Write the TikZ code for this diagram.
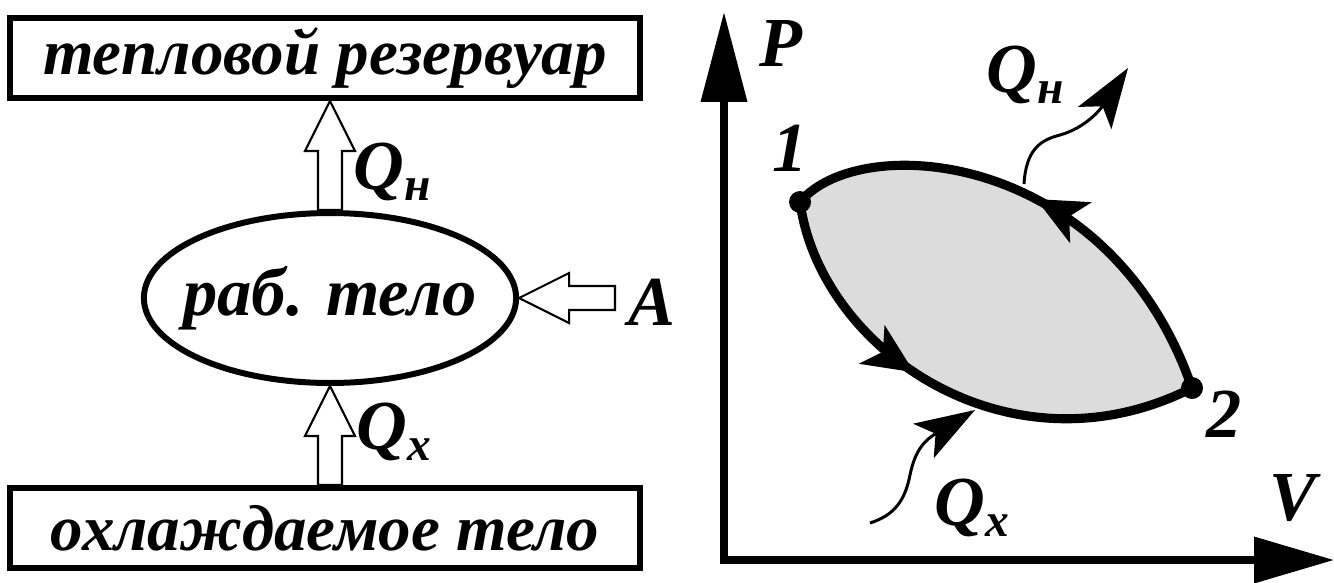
\documentclass[tikz,border=0pt]{standalone}
\usepackage{fontspec}
\setmainfont{Liberation Serif}
\usetikzlibrary{
  arrows.meta,
  shapes.geometric,
  calc,
  decorations.markings
}
\definecolor{lensgray}{HTML}{DCDCDC}

% hollow block arrow from #1 to #2
\newcommand{\hollowarrow}[2]{%
  \coordinate (ha-base) at ($(#2)!1cm!(#1)$);
  \draw[hollow] ($(#1)!0.24cm!90:(#2)$) -- ($(ha-base)!0.24cm!90:(#2)$)
    -- ($(ha-base)!0.5cm!90:(#2)$) -- (#2) -- ($(ha-base)!0.5cm!-90:(#2)$)
    -- ($(ha-base)!0.24cm!-90:(#2)$) -- ($(#1)!0.24cm!-90:(#2)$) -- cycle;
}
\newcommand{\lowsub}[1]{\raisebox{-0.35ex}{\fontsize{27}{27}\selectfont #1}}

\begin{document}
\begin{tikzpicture}[x=0.02cm, y=-0.02cm,
  every node/.style={font=\fontsize{37}{42}\selectfont\bfseries\itshape, inner sep=0pt},
  biglabel/.style={font=\fontsize{40}{44}\selectfont\bfseries\itshape},
  boxnode/.style={draw, line width=3.4pt, minimum width=12.6cm, minimum height=1.6cm},
  bodynode/.style={draw, ellipse, line width=3.4pt, inner xsep=-0.3cm,
    minimum width=7.4cm, minimum height=3.4cm,
    font=\fontsize{39}{44}\selectfont\bfseries\itshape},
  hollow/.style={draw, fill=white, line width=1.2pt, line join=miter},
  axis/.style={line width=4pt, line join=miter, {Triangle[length=1.8cm, width=0.9cm]}-{Triangle[length=1.6cm, width=0.9cm]}},
  cycleline/.style={line width=5.2pt},
  midarrow/.style={postaction={decorate}, decoration={markings,
    mark=at position #1 with {\arrow{Stealth[length=1cm, width=0.9cm, inset=0.25cm]}}}},
  heatflow/.style={line width=1.7pt, -{Stealth[length=1.2cm, width=0.8cm, inset=0.28cm]}}
]
\useasboundingbox (0,0) rectangle (1334,582);

% scheme of the refrigerator
\node[boxnode] (res) at (325,58) {тепловой резервуар};
\node[bodynode] (body) at (330,298) {раб. тело};
\node[boxnode] (cold) at (325,528) {охлаждаемое тело};

\coordinate (qh-tip) at (body.north |- res.south);
\coordinate (qx-tail) at (body.south |- cold.north);
\coordinate (work-tail) at (615,298);
\hollowarrow{body.north}{qh-tip}
\hollowarrow{qx-tail}{body.south}
\hollowarrow{work-tail}{body.east}

\node[biglabel] (qh) at (392,172) {Q\lowsub{н}};
\node[biglabel] (qx) at (394,432) {Q\lowsub{x}};
\node[biglabel] (work) at (652,302) {A};

% P-V diagram
\coordinate (O) at (724,560);
\coordinate (ptip) at (724,12);
\coordinate (vtip) at (1334,560);
\draw[axis] (ptip) -- (O) -- (vtip);
\node[biglabel] (plabel) at (781,43) {P};
\node[biglabel] (vlabel) at (1293,498) {V};

\coordinate (p1) at (800,202);
\coordinate (p2) at (1192,388);
\fill[lensgray] (p1) .. controls (860,130) and (1110,150) .. (p2)
  .. controls (1010,480) and (820,350) .. (p1);
\draw[cycleline, midarrow=0.5] (p2) .. controls (1110,150) and (860,130) .. (p1);
\draw[cycleline, midarrow=0.42] (p1) .. controls (820,350) and (1010,480) .. (p2);
\fill (p1) circle[radius=0.22cm];
\fill (p2) circle[radius=0.22cm];
\node[biglabel] (n1) at (790,148) {1};
\node[biglabel] (n2) at (1224,414) {2};

\coordinate (qh-start) at (1024,184);
\coordinate (qh-end) at (1128,68);
\draw[heatflow] (qh-start) .. controls (1026,150) and (1040,140) .. (1060,135)
  .. controls (1085,128) and (1100,110) .. (qh-end);
\coordinate (qx-start) at (870,523);
\coordinate (qx-end) at (975,410);
\draw[heatflow] (qx-start) .. controls (895,515) and (905,500) .. (910,475)
  .. controls (915,450) and (925,440) .. (qx-end);
\node[biglabel] (qhr) at (1025,75) {Q\lowsub{н}};
\node[biglabel] (qxr) at (972,508) {Q\lowsub{x}};
\end{tikzpicture}
\end{document}
